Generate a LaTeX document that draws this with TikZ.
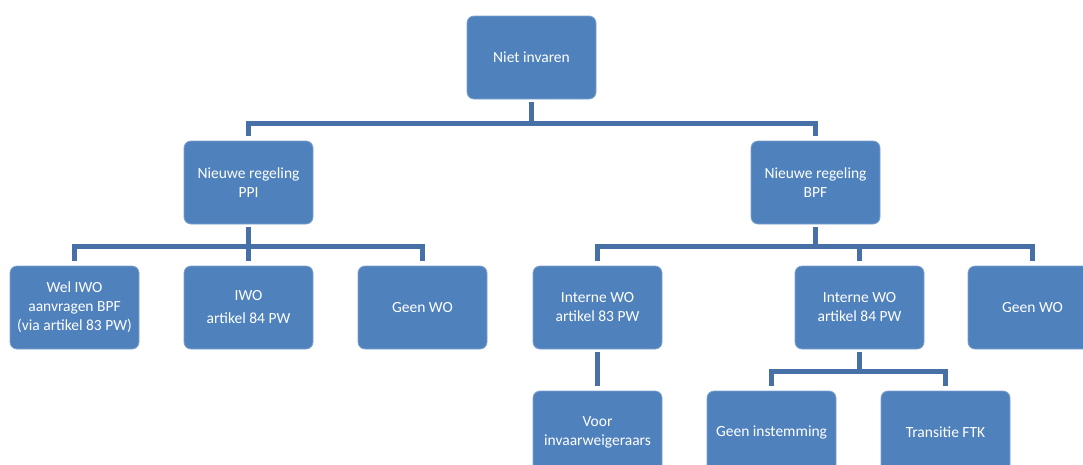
\documentclass[tikz,border=0pt]{standalone}
\usepackage{fontspec}
\setmainfont{Carlito}
\definecolor{boxfill}{HTML}{4F81BD}
\definecolor{boxline}{HTML}{7FA1CF}
\definecolor{conn}{HTML}{4771A6}
\begin{document}
\begin{tikzpicture}[x=1pt,y=-1pt,
  box/.style={draw=boxline, line width=0.8pt, fill=boxfill, rounded corners=7pt,
    minimum width=129pt, minimum height=83pt, text=white, align=center,
    inner sep=2pt, font=\fontsize{15.5}{19}\selectfont},
  link/.style={draw=conn, line width=5pt, shorten <=3pt, shorten >=5pt}]
\useasboundingbox (0,0) rectangle (1083,464);
\clip (0,0) rectangle (1083,464);
% bus levels
\coordinate (b1) at (0,123);
\coordinate (b2) at (0,246);
\coordinate (b3) at (0,371);
% nodes
\node[box] (root) at (531.5,57.5) {Niet invaren};
\node[box] (ppi) at (248.5,182.5) {Nieuwe regeling\\PPI};
\node[box] (bpf) at (815.5,182.5) {Nieuwe regeling\\BPF};
\node[box] (wel) at (74.5,307.5) {Wel IWO\\aanvragen BPF\\(via artikel 83 PW)};
\node[box] (iwo) at (248.5,307.5) {IWO\\[4pt]artikel 84 PW};
\node[box] (geen1) at (422.5,307.5) {Geen WO};
\node[box] (i83) at (597.5,307.5) {Interne WO\\artikel 83 PW};
\node[box] (i84) at (859.5,307.5) {Interne WO\\artikel 84 PW};
\node[box] (geen2) at (1032.5,307.5) {Geen WO};
\node[box] (voor) at (597.5,432.5) {Voor\\invaarweigeraars};
\node[box] (gi) at (771.5,432.5) {Geen instemming};
\node[box] (ftk) at (945.5,432.5) {Transitie FTK};
% connectors
\draw[link] (root.south) -- (root.south |- b1) -| (ppi.north);
\draw[link] (root.south) -- (root.south |- b1) -| (bpf.north);
\draw[link] (ppi.south) -- (ppi.south |- b2) -| (wel.north);
\draw[link] (ppi.south) -- (iwo.north);
\draw[link] (ppi.south) -- (ppi.south |- b2) -| (geen1.north);
\draw[link] (bpf.south) -- (bpf.south |- b2) -| (i83.north);
\draw[link] (bpf.south) -- (bpf.south |- b2) -| (i84.north);
\draw[link] (bpf.south) -- (bpf.south |- b2) -| (geen2.north);
\draw[link] (i83.south) -- (voor.north);
\draw[link] (i84.south) -- (i84.south |- b3) -| (gi.north);
\draw[link] (i84.south) -- (i84.south |- b3) -| (ftk.north);
\end{tikzpicture}
\end{document}
